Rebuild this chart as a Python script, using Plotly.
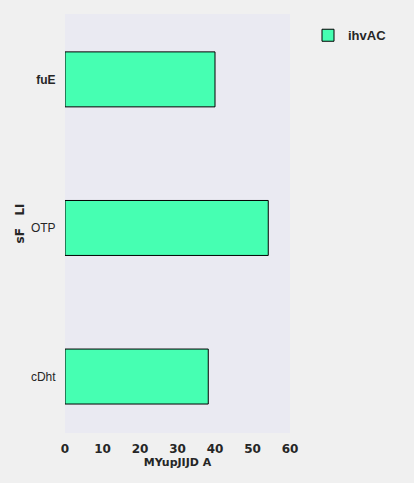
import plotly.graph_objects as go

categories = ["cDht", "OTP", "fuE"]
tick_labels = ["cDht", "OTP", "<b>fuE</b>"]
values = [38.2, 54.2, 40.0]
series_name = "ihvAC"

fig = go.Figure()
fig.add_trace(go.Bar(
    y=categories, x=values, orientation="h", name=series_name,
    marker=dict(color="#46FFB2", line=dict(color="black", width=1)),
    showlegend=True,
))
fig.update_layout(
    width=414, height=483,
    margin=dict(l=65, r=124, t=14, b=50),
    paper_bgcolor="#F0F0F0", plot_bgcolor="#EAEAF2",
    bargap=0.63,
    font=dict(family="Liberation Sans, Arial", size=12, color="#262626"),
    legend=dict(x=1.08, y=0.985, xanchor="left", yanchor="top",
                font=dict(family="Liberation Sans", size=13, color="#262626", weight="bold"),
                bgcolor="rgba(0,0,0,0)", itemwidth=30),
    xaxis=dict(range=[0, 60], dtick=10, showgrid=False, zeroline=False,
               tickfont=dict(family="DejaVu Sans", size=12, color="#262626", weight="bold"),
               title=dict(text="<b>MYupJIJD A</b>", font=dict(family="DejaVu Sans", size=11), standoff=2),
               ticks="outside", ticklen=5, tickcolor="rgba(0,0,0,0)"),
    yaxis=dict(categoryorder="array", categoryarray=categories,
               tickvals=categories, ticktext=tick_labels,
               range=[-0.38, 2.44], showgrid=False, zeroline=False,
               tickfont=dict(family="Liberation Sans", size=12, color="#262626"),
               title=dict(text="<b>sF   LI</b>", font=dict(family="DejaVu Sans", size=12), standoff=3),
               ticks="outside", ticklen=6, tickcolor="rgba(0,0,0,0)"),
)
fig.write_html("out.html", config={"displayModeBar": False},
               post_script="document.body.style.margin='0';document.body.style.padding='0';")
